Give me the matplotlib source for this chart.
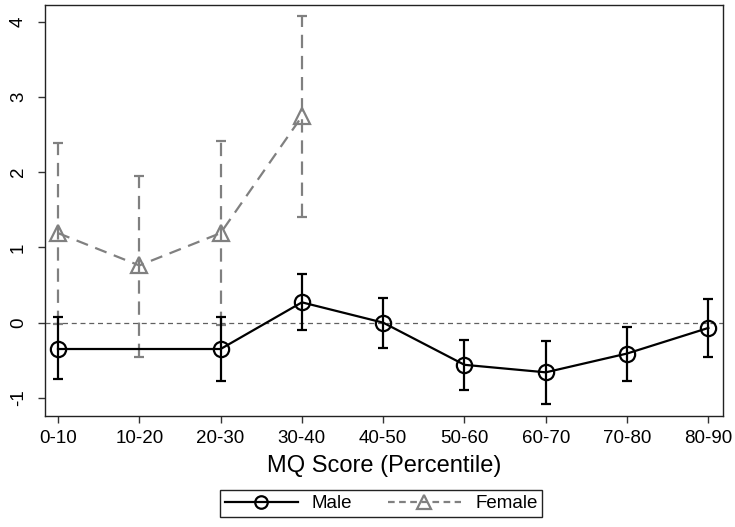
import matplotlib
matplotlib.use("Agg")
import matplotlib.pyplot as plt
from matplotlib.lines import Line2D
import numpy as np

plt.rcParams['font.family'] = ['Liberation Sans', 'DejaVu Sans']

categories = ["0-10", "10-20", "20-30", "30-40", "40-50", "50-60", "60-70", "70-80", "80-90"]

male_cats = ["0-10", "20-30", "30-40", "40-50", "50-60", "60-70", "70-80", "80-90"]
male_est = [-0.35, -0.35, 0.27, 0.00, -0.56, -0.66, -0.41, -0.07]
male_lo = [-0.75, -0.78, -0.10, -0.34, -0.89, -1.08, -0.77, -0.46]
male_hi = [0.08, 0.08, 0.64, 0.33, -0.23, -0.25, -0.06, 0.32]

female_cats = ["0-10", "10-20", "20-30", "30-40"]
female_est = [1.19, 0.76, 1.19, 2.74]
female_lo = [-0.02, -0.45, -0.03, 1.41]
female_hi = [2.39, 1.95, 2.41, 4.07]

y_ticks = [-1, 0, 1, 2, 3, 4]

GREY = "#808080"

fig = plt.figure(figsize=(7.35, 5.27), dpi=100)
ax = fig.add_axes([45/735, 1-416/527, (723-45)/735, (416-5)/527])

pos = {c: i for i, c in enumerate(categories)}
mx = np.array([pos[c] for c in male_cats])
fx = np.array([pos[c] for c in female_cats])

me = np.array(male_est); ml = np.array(male_lo); mh = np.array(male_hi)
fe = np.array(female_est); fl = np.array(female_lo); fh = np.array(female_hi)

# zero reference line
ax.axhline(0, color="#606060", lw=0.9, dashes=(4, 3), zorder=1)

# Female
eb = ax.errorbar(fx, fe, yerr=[fe - fl, fh - fe], fmt='none', ecolor=GREY,
                 elinewidth=1.6, capsize=3.5, capthick=1.6, zorder=2)
for lc in eb[2]:
    lc.set_linestyle((0, (6, 3.5)))
ax.plot(fx, fe, color=GREY, lw=1.6, dashes=(5.5, 3.5), marker='^', markersize=12,
        markerfacecolor='none', markeredgecolor=GREY, markeredgewidth=1.6, zorder=3)

# Male
ax.errorbar(mx, me, yerr=[me - ml, mh - me], fmt='none', ecolor='black',
            elinewidth=1.6, capsize=3.5, capthick=1.6, zorder=4)
ax.plot(mx, me, color='black', lw=1.6, marker='o', markersize=11,
        markerfacecolor='none', markeredgecolor='black', markeredgewidth=1.6, zorder=5)

ax.set_xlim(-0.16, len(categories) - 1 + 0.18)
ax.set_ylim(-1.24, 4.22)
ax.set_xticks(range(len(categories)))
ax.set_xticklabels(categories, fontsize=13.5)
ax.set_yticks(y_ticks)
ax.set_yticklabels([str(v) for v in y_ticks], fontsize=13.5)
for lab in ax.get_yticklabels():
    lab.set_rotation(90)
    lab.set_va('center')
ax.tick_params(axis='both', direction='out', length=5, width=1, color='#333333')
ax.tick_params(axis='x', pad=5)
ax.tick_params(axis='y', pad=8)
for s in ax.spines.values():
    s.set_linewidth(1)
    s.set_color('#222222')

ax.set_xlabel("MQ Score (Percentile)", fontsize=17, labelpad=6)

handles = [
    Line2D([], [], color='black', lw=1.6, marker='o', markersize=9,
           markerfacecolor='none', markeredgewidth=1.6),
    Line2D([], [], color=GREY, lw=1.6, dashes=(3, 2), marker='^', markersize=10,
           markerfacecolor='none', markeredgewidth=1.6),
]
leg = fig.legend(handles, ["Male", "Female"], loc='center',
                 bbox_to_anchor=(381/735, 1-503.5/527), ncol=2, fontsize=13.5,
                 handlelength=3.9, handletextpad=0.75, columnspacing=1.9,
                 frameon=True, fancybox=False, framealpha=1, borderpad=0.25,
                 borderaxespad=0)
leg.get_frame().set_edgecolor('#222222')
leg.get_frame().set_linewidth(1)

fig.savefig("out.png", dpi=100)
